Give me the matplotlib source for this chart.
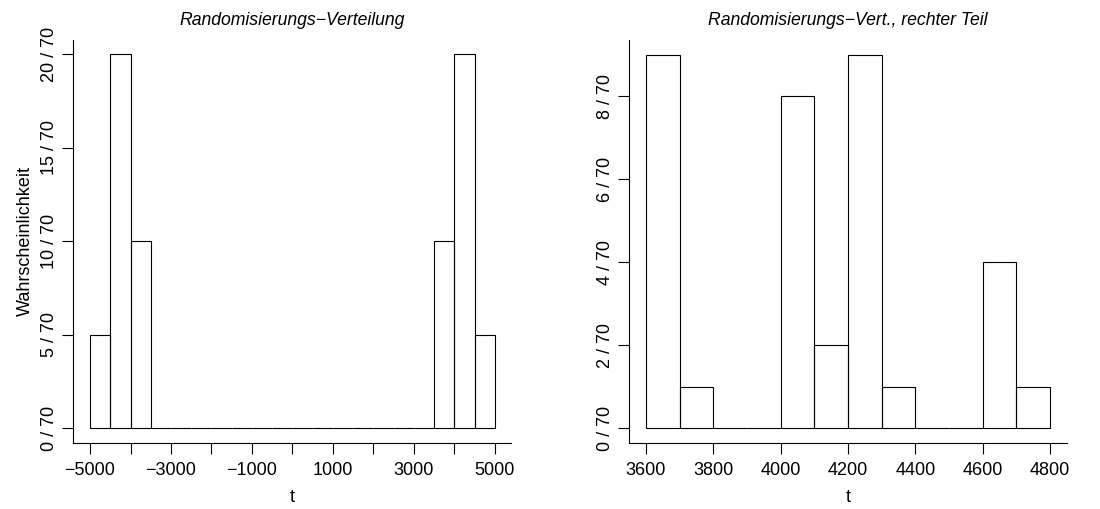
import numpy as np
import matplotlib
matplotlib.use("Agg")
import matplotlib.pyplot as plt

plt.rcParams['font.family'] = ['Liberation Sans', 'DejaVu Sans']
plt.rcParams['axes.unicode_minus'] = True

# Randomisierungs-Verteilung, gesamt (Anzahl von 70)
left_edges = [-5000, -4500, -4000, -3500, -3000, -2500, -2000, -1500, -1000, -500,
              0, 500, 1000, 1500, 2000, 2500, 3000, 3500, 4000, 4500, 5000]
left_counts = [5, 20, 10, 0, 0, 0, 0, 0, 0, 0, 0, 0, 0, 0, 0, 0, 0, 10, 20, 5]

# rechter Teil
right_edges = [3600, 3700, 3800, 3900, 4000, 4100, 4200, 4300, 4400, 4500, 4600, 4700, 4800]
right_counts = [9, 1, 0, 0, 8, 2, 9, 1, 0, 0, 4, 1]

n_total = 70
left_yticks = [0, 5, 10, 15, 20]
right_yticks = [0, 2, 4, 6, 8]
left_xticks = [-5000, -4000, -3000, -2000, -1000, 0, 1000, 2000, 3000, 4000, 5000]
left_xlabels = ['−5000', '', '−3000', '', '−1000', '', '1000', '', '3000', '', '5000']
right_xticks = [3600, 3800, 4000, 4200, 4400, 4600, 4800]

fig = plt.figure(figsize=(11, 5.09), dpi=100)
ax1 = fig.add_axes([0.0664, 0.1297, 0.3981, 0.7917])
ax2 = fig.add_axes([0.5718, 0.1297, 0.3982, 0.7917])


def draw_hist(ax, edges, counts, yticks, xlim, ylim):
    edges = np.array(edges)
    probs = np.array(counts) / n_total
    ax.bar(edges[:-1], probs, width=np.diff(edges), align='edge',
           fill=False, edgecolor='black', linewidth=0.8)
    ax.set_xlim(*xlim)
    ax.set_ylim(ylim[0] / n_total, ylim[1] / n_total)
    ax.set_yticks([k / n_total for k in yticks])
    ax.set_yticklabels([f'{k} / 70' for k in yticks], rotation=90, va='center')
    ax.spines['top'].set_visible(False)
    ax.spines['right'].set_visible(False)
    for s in ['left', 'bottom']:
        ax.spines[s].set_linewidth(0.8)
    ax.tick_params(direction='out', length=8, width=0.8, labelsize=13)
    ax.tick_params(axis='x', pad=6)
    ax.tick_params(axis='y', pad=3)
    ax.set_xlabel('t', fontsize=13, labelpad=7)


draw_hist(ax1, left_edges, left_counts, left_yticks, (-5420, 5400), (-0.8, 20.75))
ax1.set_xticks(left_xticks)
ax1.set_xticklabels(left_xlabels)
ax1.set_ylabel('Wahrscheinlichkeit', fontsize=13, labelpad=5)
ax1.set_title('Randomisierungs−Verteilung', fontsize=12.7, style='italic', pad=11)

draw_hist(ax2, right_edges, right_counts, right_yticks, (3550, 4850), (-0.36, 9.35))
ax2.set_xticks(right_xticks)
ax2.set_title('Randomisierungs−Vert., rechter Teil', fontsize=12.7, style='italic', pad=11)

fig.savefig('out.png', dpi=100)
